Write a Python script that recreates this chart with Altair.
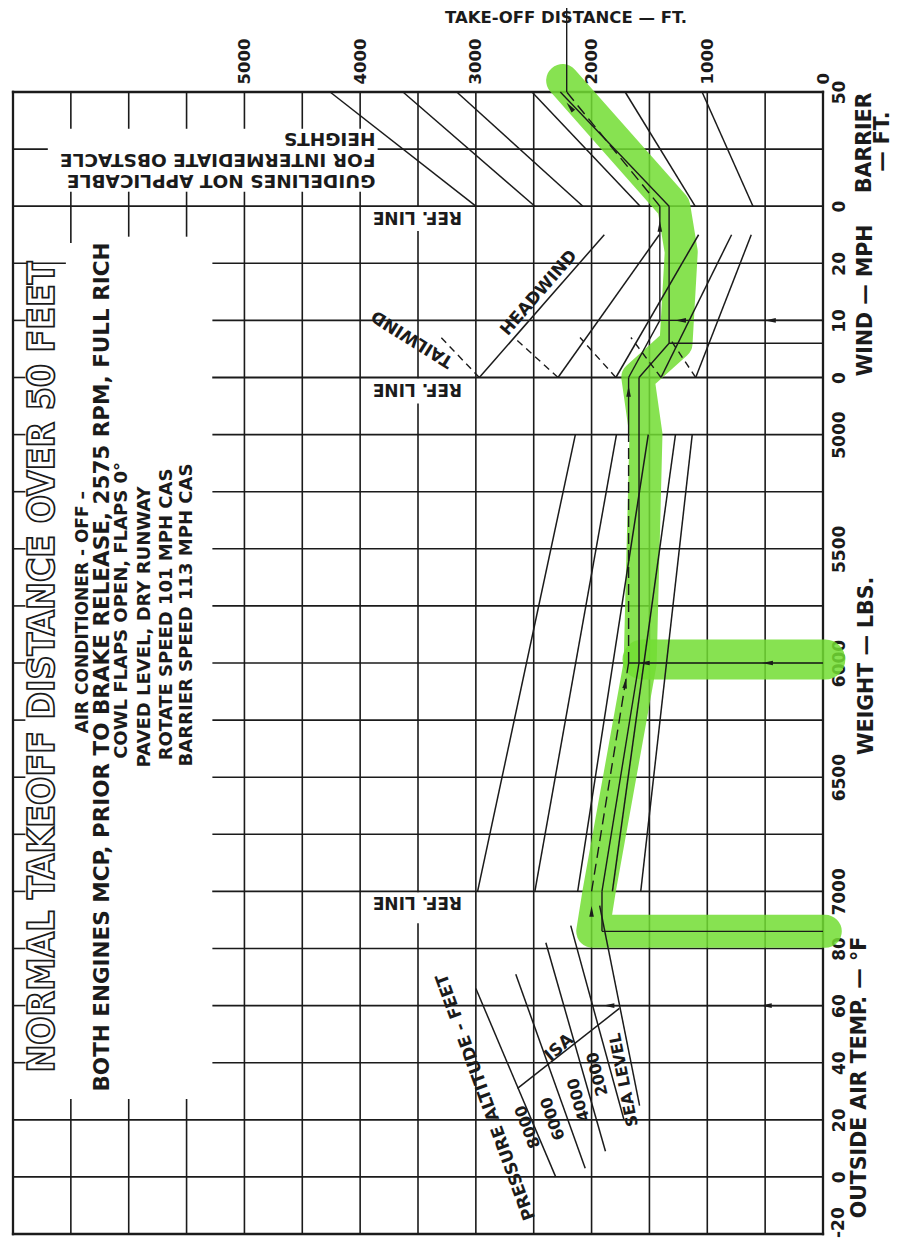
import altair as alt
import pandas as pd

# ---------------- values ----------------
DIST_TICKS = [0, 1000, 2000, 3000, 4000, 5000]
BARRIER_TICKS = [50, 0]
WIND_TICKS = [20, 10, 0]
WEIGHT_TICKS = [5000, 5500, 6000, 6500, 7000]
OAT_TICKS = [80, 60, 40, 20, 0, -20]

# obstacle guide lines: distance (ft) at 0 ft barrier and at 50 ft barrier
BARRIER_D0 = [3000, 2490, 2075, 1580, 1105, 605]
BARRIER_D50 = [4260, 3630, 3165, 2515, 1710, 1045]

# wind guide lines: distance at 0 mph, at 25 mph headwind, at 7 mph tailwind
HEAD_D0 = [2970, 2290, 1790, 1400, 1100]
HEAD_D25 = [1890, 1415, 1075, 790, 620]
TAIL_D7 = [3300, 2670, 2100, 1660, 1330]

# weight guide lines: distance at 7000 lb and at 5000 lb
WEIGHT_D7000 = [2985, 2490, 2120, 1820, 1575]
WEIGHT_D5000 = [2140, 1785, 1510, 1275, 1130]

# pressure altitude lines (OAT panel): upper end (T, d) and lower end (T, d)
ALT_NAMES = ["8000", "6000", "4000", "2000", "SEA LEVEL"]
ALT_TOP_T = [66, 71, 82, 88, 95]
ALT_TOP_D = [3000, 2655, 2395, 2180, 1930]
ALT_BOT_T = [0, 3, 9, 20, 25]
ALT_BOT_D = [2310, 2055, 1880, 1720, 1585]
ISA_T = [31, 59]
ISA_D = [2640, 1760]

# worked example (thin arrows, partly dashed)
EX_OAT, EX_ALT_D = 60, 2000
EX_W, EX_W_D = 6000, 1680
EX_WIND, EX_WIND_D = 10, 1410
EX_RESULT = 2215

# hand-drawn solution (highlighted)
US_OAT, US_REF_D = 86, 1910
US_W_D = 1590
US_WIND, US_WIND_D = 6, 1330
US_RESULT = 2270

INK = "#1b1b1b"
GREEN = "#72DD33"
FONT = "DejaVu Sans"

XS = alt.Scale(domain=[0, 7000], reverse=True, nice=False, zero=False)
YS = alt.Scale(domain=[0, 20], reverse=True, nice=False, zero=False)


def u_of(s, v):
    if s == "B":
        return 2 - v / 25
    if s == "W":
        return 5 - v / 10
    if s == "G":
        return 6 + (v - 5000) / 250
    if s == "T":
        return 19 - v / 20
    return v


def uexpr(s, v):
    S, V = f"datum.{s}", f"datum.{v}"
    return (f"{S}=='B' ? 2-{V}/25 : {S}=='W' ? 5-{V}/10 : "
            f"{S}=='G' ? 6+({V}-5000)/250 : {S}=='T' ? 19-{V}/20 : {V}")


# ---------------- axes ----------------
# the last OAT label (-20) sits on the bottom edge; it is drawn as a text mark
# nudged inside the page instead of as an axis label
pairs = ([(u_of("B", b), str(b)) for b in BARRIER_TICKS]
         + [(u_of("W", w), str(w)) for w in WIND_TICKS]
         + [(u_of("G", g), str(g)) for g in WEIGHT_TICKS]
         + [(u_of("T", t), str(t)) for t in OAT_TICKS[:-1]])
Y_VALUES = [p[0] for p in pairs]
label_expr = " : ".join(f"abs(datum.value-{u})<0.01 ? '{lab}'" for u, lab in pairs) + " : ''"

X_AXIS = alt.Axis(orient="top", values=DIST_TICKS, format="d", labelAngle=270,
                  labelAlign="left", labelBaseline="middle", labelPadding=8,
                  ticks=False, domain=False, grid=False, labelFont=FONT,
                  labelFontWeight="bold", labelFontSize=16.5, labelColor=INK,
                  labelFlush=False, labelOverlap=False, title=None)
Y_AXIS = alt.Axis(orient="right", values=Y_VALUES, labelExpr=label_expr, labelAngle=270,
                  labelAlign="center", labelBaseline="top", labelPadding=8,
                  ticks=False, domain=False, grid=False, labelFont=FONT,
                  labelFontWeight="bold", labelFontSize=17, labelColor=INK,
                  labelFlush=False, labelOverlap=False, title=None)


def X(field):
    return alt.X(field, type="quantitative", scale=XS, axis=X_AXIS, title=None)


def Y(field):
    return alt.Y(field, type="quantitative", scale=YS, axis=Y_AXIS, title=None)


# ---------------- grid (layout of the printed chart) ----------------
grid = []
for d in range(0, 7001, 500):
    w = 2.3 if d in (0, 7000) else 1.6
    if d in (6500, 6000, 5500):
        spans = [(0, 0.63), (1.76, 2.63 if d == 6500 else 2.52), (17.65, 20)]
    elif d in (5000, 4500, 4000):
        spans = [(0, 0.63), (1.76, 20)]
    elif d == 3500:
        spans = [(0, 2), (2.45, 5), (5.47, 14), (14.57, 20)]
    else:
        spans = [(0, 20)]
    for a, b in spans:
        grid.append(dict(d1=d, d2=d, u1=a, u2=b, w=w))
for u in [0, 2, 18, 19, 20]:
    grid.append(dict(d1=7000, d2=0, u1=u, u2=u, w=2.3 if u in (0, 20) else 1.8))
grid.append(dict(d1=7000, d2=6706, u1=1, u2=1, w=1.6))
grid.append(dict(d1=3842, d2=0, u1=1, u2=1, w=1.6))
grid.append(dict(d1=7000, d2=6550, u1=3, u2=3, w=1.6))
grid.append(dict(d1=5270, d2=0, u1=3, u2=3, w=1.6))
for u in range(4, 18):
    grid.append(dict(d1=7000, d2=6900, u1=u, u2=u, w=1.6))
    grid.append(dict(d1=5270, d2=0, u1=u, u2=u, w=1.9 if u in (5, 14) else 1.6))
grid_df = pd.DataFrame(grid)

grid_layer = alt.Chart(grid_df).mark_rule(color=INK, strokeCap="square").encode(
    x=X("d1"), x2=alt.X2("d2"), y=Y("u1"), y2=alt.Y2("u2"),
    strokeWidth=alt.StrokeWidth("w:Q", scale=None),
)


def seg_layer(rows, dash=None, width=1.5):
    df = pd.DataFrame(rows, columns=["s1", "v1", "d1", "s2", "v2", "d2"])
    mk = dict(color=INK, strokeWidth=width)
    if dash:
        mk["strokeDash"] = dash
    return alt.Chart(df).transform_calculate(
        u1=uexpr("s1", "v1"), u2=uexpr("s2", "v2")
    ).mark_rule(**mk).encode(
        x=X("d1"), x2=alt.X2("d2"), y=Y("u1"), y2=alt.Y2("u2"),
    )


guides = []
for a, b in zip(BARRIER_D0, BARRIER_D50):
    guides.append(("B", 0, a, "B", 50, b))
for a, b in zip(HEAD_D0, HEAD_D25):
    guides.append(("W", 0, a, "W", 25, b))
for a, b in zip(WEIGHT_D7000, WEIGHT_D5000):
    guides.append(("G", 7000, a, "G", 5000, b))
for t1, d1, t2, d2 in zip(ALT_TOP_T, ALT_TOP_D, ALT_BOT_T, ALT_BOT_D):
    guides.append(("T", t1, d1, "T", t2, d2))
guides.append(("T", ISA_T[0], ISA_D[0], "T", ISA_T[1], ISA_D[1]))
tail = [("W", 0, a, "W", 7, b) for a, b in zip(HEAD_D0, TAIL_D7)]

path_solid = [
    ("T", EX_OAT, 0, "T", EX_OAT, EX_ALT_D),
    ("G", EX_W, 0, "G", EX_W, EX_W_D),
    ("G", 5000, EX_W_D, "W", 0, EX_W_D),
    ("W", 0, EX_W_D, "W", EX_WIND, EX_WIND_D),
    ("W", EX_WIND, 0, "W", EX_WIND, EX_WIND_D),
    ("W", EX_WIND, EX_WIND_D, "W", 30, EX_WIND_D),
    ("B", 50, EX_RESULT, "B", 90, EX_RESULT),
    ("T", US_OAT, 0, "T", US_OAT, US_REF_D),
    ("T", US_OAT, US_REF_D, "T", 100, US_REF_D),
    ("G", 7000, US_REF_D, "G", EX_W, US_W_D),
    ("G", EX_W, US_W_D, "W", 0, US_W_D),
    ("W", 0, US_W_D, "W", US_WIND, US_WIND_D),
    ("W", US_WIND, 0, "W", US_WIND, US_WIND_D),
    ("W", US_WIND, US_WIND_D, "W", 30, US_WIND_D),
    ("B", 0, US_WIND_D, "B", 50, US_RESULT),
]
path_dashed = [
    ("G", 7000, EX_ALT_D, "G", EX_W, EX_W_D),
    ("G", EX_W, EX_W_D, "G", 5000, EX_W_D),
    ("B", 0, EX_WIND_D, "B", 50, EX_RESULT),
]

# arrowheads on the worked example: (d, section, value, direction angle)
arrows = pd.DataFrame([
    (490, "T", EX_OAT, 270), (1850, "T", EX_OAT, 270), (EX_ALT_D, "T", 93, 0),
    (1707, "G", 6087, 9), (480, "G", EX_W, 270), (1545, "G", EX_W, 270),
    (EX_W_D, "W", -2.4, 0), (455, "W", EX_WIND, 270), (1232, "W", EX_WIND, 270),
    (EX_WIND_D, "W", 26.5, 0), (2187, "B", 43.5, 321),
], columns=["d", "s", "v", "a"])
arrow_layer = alt.Chart(arrows).transform_calculate(u=uexpr("s", "v")).mark_point(
    shape="M0,-1L0.42,1L-0.42,1Z", filled=True, size=120, color=INK, opacity=1, strokeWidth=0
).encode(
    x=X("d"), y=Y("u"), angle=alt.Angle("a:Q", scale=None),
)

# highlighter strokes
green = pd.DataFrame([
    ("main", 1, -20, "T", US_OAT, 33), ("main", 2, 1990, "T", US_OAT, 33),
    ("main", 3, 1935, "T", 100, 33), ("main", 4, 1580, "G", 6000, 33),
    ("main", 5, 1530, "G", 5000, 33), ("main", 6, 1600, "W", 0, 33),
    ("main", 7, 1270, "W", US_WIND, 33), ("main", 8, 1225, "W", 22, 33),
    ("main", 9, 1290, "B", 0, 33), ("main", 10, 2250, "B", 55, 33),
    ("w6000", 1, -20, "G", 5985, 40), ("w6000", 2, 1560, "G", 5985, 40),
], columns=["g", "o", "d", "s", "v", "w"])
green_layer = alt.Chart(green).transform_calculate(u=uexpr("s", "v")).mark_line(
    color=GREEN, opacity=0.85, strokeCap="round", strokeJoin="round"
).encode(
    x=X("d"), y=Y("u"),
    order="o:Q", detail="g:N", strokeWidth=alt.StrokeWidth("w:Q", scale=None),
)


def text_layer(rows, align, baseline, font=FONT, weight="bold", **kw):
    df = pd.DataFrame(rows, columns=["t", "d", "s", "v", "a", "fs"])
    return alt.Chart(df).transform_calculate(u=uexpr("s", "v")).mark_text(
        align=align, baseline=baseline, font=font, fontWeight=weight, **kw
    ).encode(
        x=X("d"), y=Y("u"),
        text="t:N", angle=alt.Angle("a:Q", scale=None), size=alt.Size("fs:Q", scale=None),
    )


title_layer = text_layer(
    [("NORMAL TAKEOFF DISTANCE OVER 50 FEET", 6745, "U", 10.07, 270, 37)],
    "center", "middle", font="Liberation Sans Narrow, DejaVu Sans Condensed, sans-serif",
    fill="white", stroke=INK, strokeWidth=1.7,
)
sub_layer = text_layer([
    ("AIR CONDITIONER - OFF –", 6399, "U", 9.11, 270, 17),
    ("BOTH ENGINES MCP, PRIOR TO BRAKE RELEASE, 2575 RPM, FULL RICH", 6226, "U", 10.07, 270, 21.5),
    ("COWL FLAPS OPEN, FLAPS 0°", 6054, "U", 9.08, 270, 18),
    ("PAVED LEVEL, DRY RUNWAY", 5863, "U", 9.37, 270, 18),
    ("ROTATE SPEED 101 MPH CAS", 5673, "U", 9.15, 270, 18),
    ("BARRIER SPEED 113 MPH CAS", 5500, "U", 9.16, 270, 18),
    ("HEADWIND", 2455, "U", 3.52, 311, 17),
    ("TAILWIND", 3549, "U", 4.32, 212, 17),
    ("PRESSURE ALTITUDE - FEET", 2912, "U", 17.6, 250, 17),
    (ALT_NAMES[0], 2550, "U", 18.12, 249, 16),
    (ALT_NAMES[1], 2334, "U", 17.98, 251, 16),
    (ALT_NAMES[2], 2111, "U", 17.65, 254, 16),
    (ALT_NAMES[3], 1949, "U", 17.2, 256, 16),
    (ALT_NAMES[4], 1720, "U", 17.3, 259, 16),
    ("ISA", 2280, "U", 16.74, 319, 17),
    ("BARRIER", -367, "U", 0.89, 270, 20.5),
    ("— FT.", -515, "U", 0.87, 270, 20.5),
    ("WIND — MPH", -371, "U", 3.65, 270, 20.5),
    ("WEIGHT — LBS.", -376, "U", 10.05, 270, 20.5),
    ("OUTSIDE AIR TEMP. — °F", -324, "U", 17.26, 270, 20.5),
    ("TAKE-OFF DISTANCE — FT.", 2221, "U", -1.29, 0, 16.5),
], "center", "middle", color=INK)
# bottom OAT tick label, styled like the axis labels, kept inside the page
edge_label = text_layer([
    (str(OAT_TICKS[-1]), -69, "U", u_of("T", OAT_TICKS[-1]) - 0.2, 270, 17),
], "center", "top", color=INK)
ref_layer = text_layer([
    ("REF. LINE", 3120, "U", 2.1, 180, 17),
    ("REF. LINE", 3120, "U", 5.12, 180, 17),
    ("REF. LINE", 3120, "U", 14.1, 180, 17),
], "left", "alphabetic", color=INK)
guide_note = text_layer([
    ("GUIDELINES  NOT  APPLICABLE\nFOR INTERMEDIATE OBSTACLE\nHEIGHTS", 3868, "U", 1.72, 180, 18.5),
], "left", "top", color=INK, lineBreak="\n", lineHeight=21)

chart = alt.layer(
    grid_layer,
    green_layer,
    seg_layer(guides, width=1.5),
    seg_layer(tail, dash=[7, 5], width=1.4),
    seg_layer(path_solid, width=1.4),
    seg_layer(path_dashed, dash=[11, 6], width=1.4),
    arrow_layer,
    title_layer,
    sub_layer,
    edge_label,
    ref_layer,
    guide_note,
).properties(
    width=810, height=1142,
    padding={"left": 5, "top": 84, "right": 75, "bottom": 14},
    autosize=alt.AutoSizeParams(type="none"),
    background="white",
).configure_view(strokeWidth=0)

chart.save("out.html", embed_options={"renderer": "svg", "actions": False})
